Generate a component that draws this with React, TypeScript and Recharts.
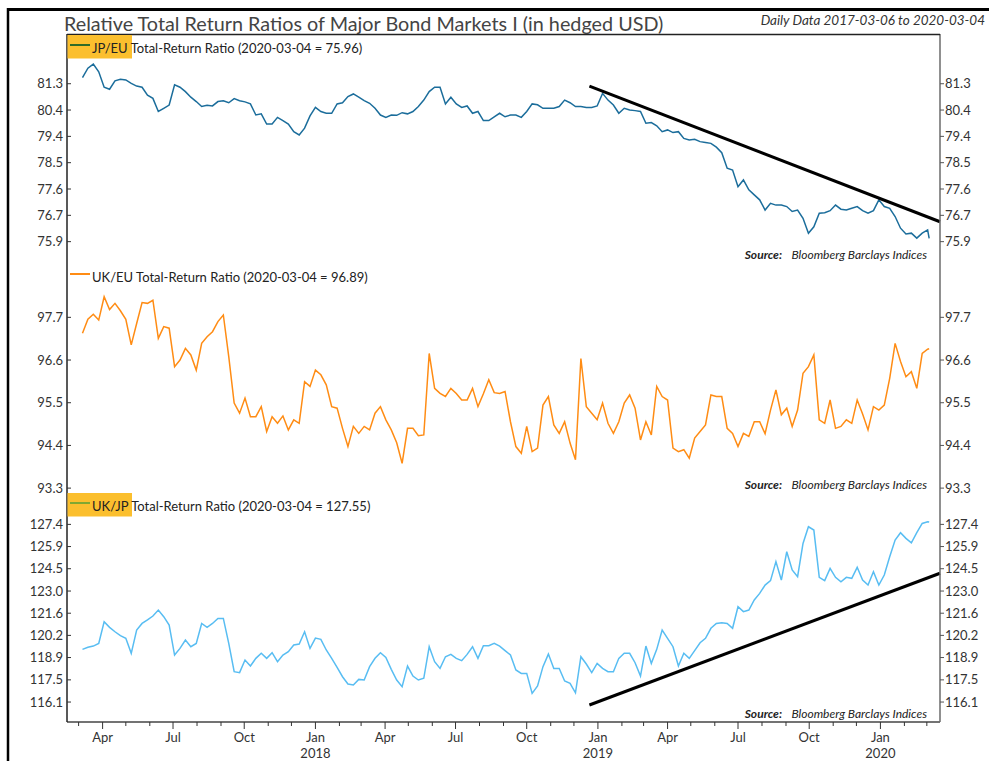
import React from "react";
import { LineChart, Line, XAxis, YAxis, ReferenceLine } from "recharts";

const DAY = 86400000;
// weekly readings from 2017-03-06, the last value is the 2020-03-04 close
const START = Date.UTC(2017, 2, 6);
const LAST_DATE = Date.UTC(2020, 2, 4);
const X_DOMAIN = [Date.UTC(2017, 1, 14), Date.UTC(2020, 2, 18)];

const jpEu = [
  81.46, 81.78, 81.92, 81.66, 81.13, 81.06, 81.35, 81.4, 81.38, 81.26,
  81.17, 81.13, 80.86, 80.75, 80.3, 80.41, 80.52, 81.21, 81.13, 80.98,
  80.79, 80.64, 80.47, 80.51, 80.49, 80.64, 80.67, 80.6, 80.74, 80.67,
  80.63, 80.56, 80.18, 80.22, 79.87, 79.87, 80.1, 79.99, 79.87, 79.61,
  79.5, 79.73, 80.15, 80.44, 80.3, 80.24, 80.24, 80.56, 80.6, 80.81,
  80.9, 80.79, 80.67, 80.58, 80.41, 80.18, 80.1, 80.18, 80.17, 80.26,
  80.22, 80.3, 80.47, 80.69, 80.98, 81.13, 81.13, 80.56, 80.79, 80.56,
  80.44, 80.49, 80.24, 80.3, 79.99, 79.99, 80.12, 80.24, 80.12, 80.18,
  80.18, 80.1, 80.3, 80.56, 80.53, 80.41, 80.41, 80.41, 80.47, 80.69,
  80.6, 80.47, 80.47, 80.44, 80.44, 80.49, 80.92, 80.69, 80.52, 80.24,
  80.41, 80.35, 80.33, 80.3, 79.9, 79.92, 79.81, 79.61, 79.67, 79.58,
  79.61, 79.38, 79.33, 79.35, 79.27, 79.24, 79.21, 79.08, 78.89, 78.36,
  78.3, 77.73, 77.96, 77.62, 77.45, 77.28, 76.93, 77.16, 77.1, 77.1,
  77.05, 76.88, 76.93, 76.65, 76.14, 76.36, 76.82, 76.84, 76.91, 77.1,
  76.96, 76.93, 76.99, 77.05, 76.91, 76.82, 76.91, 77.28, 77.05, 76.99,
  76.71, 76.31, 76.11, 76.14, 75.97, 76.14, 76.25, 75.96,
];

const ukEu = [
  97.29, 97.65, 97.78, 97.63, 98.23, 97.9, 98.06, 97.87, 97.65, 96.99,
  97.54, 98.08, 98.06, 98.14, 97.16, 97.46, 97.42, 96.43, 96.6, 96.9,
  96.73, 96.34, 97.03, 97.2, 97.33, 97.59, 97.76, 96.69, 95.49, 95.23,
  95.62, 95.14, 95.14, 95.4, 94.76, 95.14, 94.97, 95.16, 94.8, 95.06,
  94.97, 96.04, 95.92, 96.34, 96.22, 95.96, 95.4, 95.36, 94.84, 94.37,
  94.89, 94.71, 94.89, 94.8, 95.23, 95.4, 95.06, 94.8, 94.47, 93.94,
  94.84, 94.84, 94.65, 94.67, 96.77, 95.87, 95.74, 95.66, 95.87, 95.74,
  95.57, 95.57, 95.87, 95.4, 95.73, 96.09, 95.76, 95.74, 95.79, 95.01,
  94.37, 94.2, 94.89, 94.24, 94.33, 95.44, 95.66, 94.93, 94.71, 95.01,
  94.46, 94.03, 96.64, 95.4, 95.23, 95.06, 95.49, 94.97, 94.71, 95.01,
  95.49, 95.7, 95.36, 94.54, 95.01, 94.67, 95.92, 95.66, 95.57, 94.33,
  94.24, 94.29, 94.07, 94.59, 94.76, 94.93, 95.7, 95.66, 95.66, 94.84,
  94.71, 94.37, 94.71, 94.63, 95.01, 95.01, 94.7, 95.31, 95.83, 95.19,
  95.36, 94.89, 95.31, 96.26, 96.43, 96.73, 95.06, 94.97, 95.57, 94.84,
  94.89, 95.06, 94.97, 95.57, 95.21, 94.8, 95.4, 95.31, 95.44, 96.13,
  97.03, 96.56, 96.17, 96.3, 95.87, 96.77, 96.88, 96.89,
];

const ukJp = [
  119.45, 119.58, 119.66, 119.83, 121.21, 120.85, 120.57, 120.32, 120.15, 119.2,
  120.68, 121.1, 121.32, 121.57, 121.95, 121.53, 121.0, 119.09, 119.51, 120.04,
  119.62, 119.83, 121.1, 120.85, 121.1, 121.42, 121.42, 119.83, 118.03, 117.97,
  118.77, 118.39, 118.88, 119.2, 118.88, 119.24, 118.67, 119.09, 119.3, 119.73,
  119.79, 120.57, 119.51, 120.17, 120.09, 119.41, 118.88, 118.31, 117.71, 117.25,
  117.18, 117.54, 117.5, 118.35, 118.88, 119.24, 118.94, 118.18, 117.5, 117.08,
  118.39, 117.75, 117.5, 117.61, 119.62, 118.67, 118.24, 118.98, 119.13, 118.88,
  118.73, 119.13, 119.62, 118.88, 119.68, 119.68, 119.83, 119.66, 119.37, 119.09,
  118.14, 117.92, 117.92, 116.65, 117.12, 118.35, 119.15, 118.24, 118.24, 117.44,
  117.29, 116.69, 118.98, 118.52, 117.97, 118.56, 118.24, 118.03, 118.03, 118.88,
  119.2, 119.2, 118.6, 117.75, 119.66, 118.56, 119.45, 120.68, 120.15, 119.62,
  118.39, 119.2, 118.88, 119.37, 119.87, 120.15, 120.79, 121.1, 121.15, 121.1,
  120.79, 122.16, 121.85, 121.95, 122.59, 123.01, 123.54, 123.82, 125.03, 123.86,
  125.66, 124.5, 124.07, 126.19, 127.25, 127.04, 124.03, 123.82, 124.6, 124.03,
  123.75, 124.03, 123.97, 124.67, 123.86, 123.54, 124.39, 123.54, 124.18, 125.34,
  126.4, 126.87, 126.51, 126.23, 126.87, 127.46, 127.57, 127.55,
];

const JP_TICKS = [75.85, 76.75, 77.65, 78.55, 79.45, 80.35, 81.25];
const JP_LABELS = ["75.9", "76.7", "77.6", "78.5", "79.4", "80.4", "81.3"];
const UE_TICKS = [93.3, 94.4, 95.5, 96.6, 97.7];
const UE_LABELS = ["93.3", "94.4", "95.5", "96.6", "97.7"];
const UJ_TICKS = [116.1, 117.51, 118.93, 120.34, 121.75, 123.16, 124.58, 125.99, 127.4];
const UJ_LABELS = ["116.1", "117.5", "118.9", "120.2", "121.6", "123.0", "124.5", "125.9", "127.4"];

const JP_TREND = [
  { date: Date.UTC(2018, 11, 21), value: 81.17 },
  { date: X_DOMAIN[1], value: 76.53 },
];
const UJ_TREND = [
  { date: Date.UTC(2018, 11, 21), value: 115.91 },
  { date: X_DOMAIN[1], value: 124.29 },
];

const MONTHS = ["Jan", "Apr", "Jul", "Oct"];

const dates = jpEu.map((_, i) =>
  i < jpEu.length - 1 ? START + i * 7 * DAY : LAST_DATE
);
const rows = (vals: number[]) => vals.map((v, i) => ({ date: dates[i], value: v }));

const monthTicks: number[] = [];
for (let m = 2; m <= 38; m++) monthTicks.push(Date.UTC(2017, m, 1));

const FONT = "Lato, 'Open Sans', sans-serif";
const W = 989;

const LeftTick = (props: any) => {
  const { x, y, payload, ticks, labels } = props;
  return (
    <g>
      <line x1={67} x2={71} y1={y} y2={y} stroke="#333" />
      <text x={x} y={y} dy={4.6} textAnchor="end" fontSize={13} fill="#333" fontFamily={FONT}>
        {labels[ticks.indexOf(payload.value)]}
      </text>
    </g>
  );
};

const RightTick = (props: any) => {
  const { x, y, payload, ticks, labels } = props;
  return (
    <g>
      <line x1={940} x2={944} y1={y} y2={y} stroke="#555" />
      <text x={x} y={y} dy={4.6} textAnchor="start" fontSize={13} fill="#333" fontFamily={FONT}>
        {labels[ticks.indexOf(payload.value)]}
      </text>
    </g>
  );
};

const MonthTick = (props: any) => {
  const { x, y, payload } = props;
  const d = new Date(payload.value);
  const m = d.getUTCMonth();
  const major = m % 3 === 0;
  return (
    <g>
      <line x1={x} x2={x} y1={y} y2={y + (major ? 7 : 4)} stroke="#333" />
      {major && (
        <text x={x} y={y + 19.7} textAnchor="middle" fontSize={13} fill="#333" fontFamily={FONT}>
          {MONTHS[m / 3]}
        </text>
      )}
      {m === 0 && (
        <text x={x} y={y + 36.3} textAnchor="middle" fontSize={13} fill="#333" fontFamily={FONT}>
          {d.getUTCFullYear()}
        </text>
      )}
    </g>
  );
};

interface PanelProps {
  top: number;
  height: number;
  data: { date: number; value: number }[];
  color: string;
  domain: number[];
  ticks: number[];
  labels: string[];
  trend?: { date: number; value: number }[];
  bottomAxis?: boolean;
}

// panels without a date axis get 10px of spare room below the plot so edge labels are not clipped
const Panel: React.FC<PanelProps> = ({ top, height, data, color, domain, ticks, labels, trend, bottomAxis }) => (
  <div style={{ position: "absolute", left: 0, top }}>
    <LineChart
      width={W}
      height={height}
      data={data}
      margin={{ top: 0, right: 0, bottom: bottomAxis ? 0 : 10, left: 0 }}
    >
      <XAxis
        dataKey="date"
        type="number"
        domain={X_DOMAIN}
        allowDataOverflow
        height={bottomAxis ? 39 : 0}
        ticks={bottomAxis ? monthTicks : []}
        interval={0}
        tickSize={0}
        tickMargin={0}
        tick={bottomAxis ? <MonthTick /> : false}
        axisLine={{ stroke: bottomAxis ? "#444" : "#222", strokeWidth: bottomAxis ? 1.5 : 2 }}
      />
      <YAxis
        yAxisId="left"
        orientation="left"
        width={67}
        domain={domain}
        allowDataOverflow
        ticks={ticks}
        interval={0}
        tickSize={0}
        tickMargin={4}
        tick={<LeftTick ticks={ticks} labels={labels} />}
        axisLine={{ stroke: "#222", strokeWidth: 1.5 }}
      />
      <YAxis
        yAxisId="right"
        orientation="right"
        width={49}
        domain={domain}
        allowDataOverflow
        ticks={ticks}
        interval={0}
        tickSize={0}
        tickMargin={5}
        tick={<RightTick ticks={ticks} labels={labels} />}
        axisLine={{ stroke: "#6b6b6b", strokeWidth: 1.5 }}
      />
      <Line
        yAxisId="left"
        dataKey="value"
        stroke={color}
        strokeWidth={1.5}
        dot={false}
        isAnimationActive={false}
      />
      {trend && (
        <ReferenceLine
          yAxisId="left"
          segment={[
            { x: trend[0].date, y: trend[0].value },
            { x: trend[1].date, y: trend[1].value },
          ]}
          stroke="#000"
          strokeWidth={3}
          ifOverflow="visible"
        />
      )}
    </LineChart>
  </div>
);

const Legend = ({ top, name, rest, lineColor, highlight }: any) => (
  <g fontFamily={FONT} fontSize={13} fill="#222">
    {highlight && <rect x={67.5} y={top + 1} width={64.5} height={23.5} fill="#FBBF2E" />}
    <line x1={70} x2={90} y1={top + 11} y2={top + 11} stroke={lineColor} strokeWidth={2} />
    <text x={92} y={top + 19}>
      {name} {rest}
    </text>
  </g>
);

const Source = ({ y }: { y: number }) => (
  <g fontFamily={FONT} fontSize={12} fill="#222" fontStyle="italic">
    <text x={782} y={y} textAnchor="end" fontWeight="bold">
      Source:
    </text>
    <text x={927} y={y} textAnchor="end">
      Bloomberg Barclays Indices
    </text>
  </g>
);

export default function App() {
  return (
    <div style={{ position: "relative", width: W, height: 761, background: "#fff", overflow: "hidden" }}>
      <style>{`body{margin:0;overflow:hidden;}`}</style>
      <Panel top={34} height={239} data={rows(jpEu)} color="#1B6D9B" domain={[75.12, 82.95]} ticks={JP_TICKS} labels={JP_LABELS} trend={JP_TREND} />
      <Panel top={263} height={239} data={rows(ukEu)} color="#FF8C14" domain={[93.2, 99.1]} ticks={UE_TICKS} labels={UE_LABELS} />
      <Panel top={492} height={269} data={rows(ukJp)} color="#58BDF2" domain={[114.83, 129.46]} ticks={UJ_TICKS} labels={UJ_LABELS} trend={UJ_TREND} bottomAxis />
      <svg width={W} height={761} style={{ position: "absolute", left: 0, top: 0, pointerEvents: "none" }}>
        <line x1={8} x2={W} y1={9.5} y2={9.5} stroke="#000" strokeWidth={3} />
        <line x1={8} x2={8} y1={8} y2={761} stroke="#000" strokeWidth={2.5} />
        <line x1={67} x2={940} y1={34.5} y2={34.5} stroke="#222" strokeWidth={1.5} />
        <text x={64} y={30.7} fontFamily={FONT} fontSize={19.8} fill="#444">
          Relative Total Return Ratios of Major Bond Markets I (in hedged USD)
        </text>
        <text x={985} y={25} textAnchor="end" fontFamily={FONT} fontSize={13.5} fontStyle="italic" fill="#333">
          Daily Data 2017-03-06 to 2020-03-04
        </text>
        <Legend top={34} name="JP/EU" rest="Total-Return Ratio (2020-03-04 = 75.96)" lineColor="#2F6B27" highlight />
        <Legend top={263} name="UK/EU" rest="Total-Return Ratio (2020-03-04 = 96.89)" lineColor="#FF8C14" />
        <Legend top={492} name="UK/JP" rest="Total-Return Ratio (2020-03-04 = 127.55)" lineColor="#7FA832" highlight />
        <Source y={258.5} />
        <Source y={488.5} />
        <Source y={718.3} />
      </svg>
    </div>
  );
}
